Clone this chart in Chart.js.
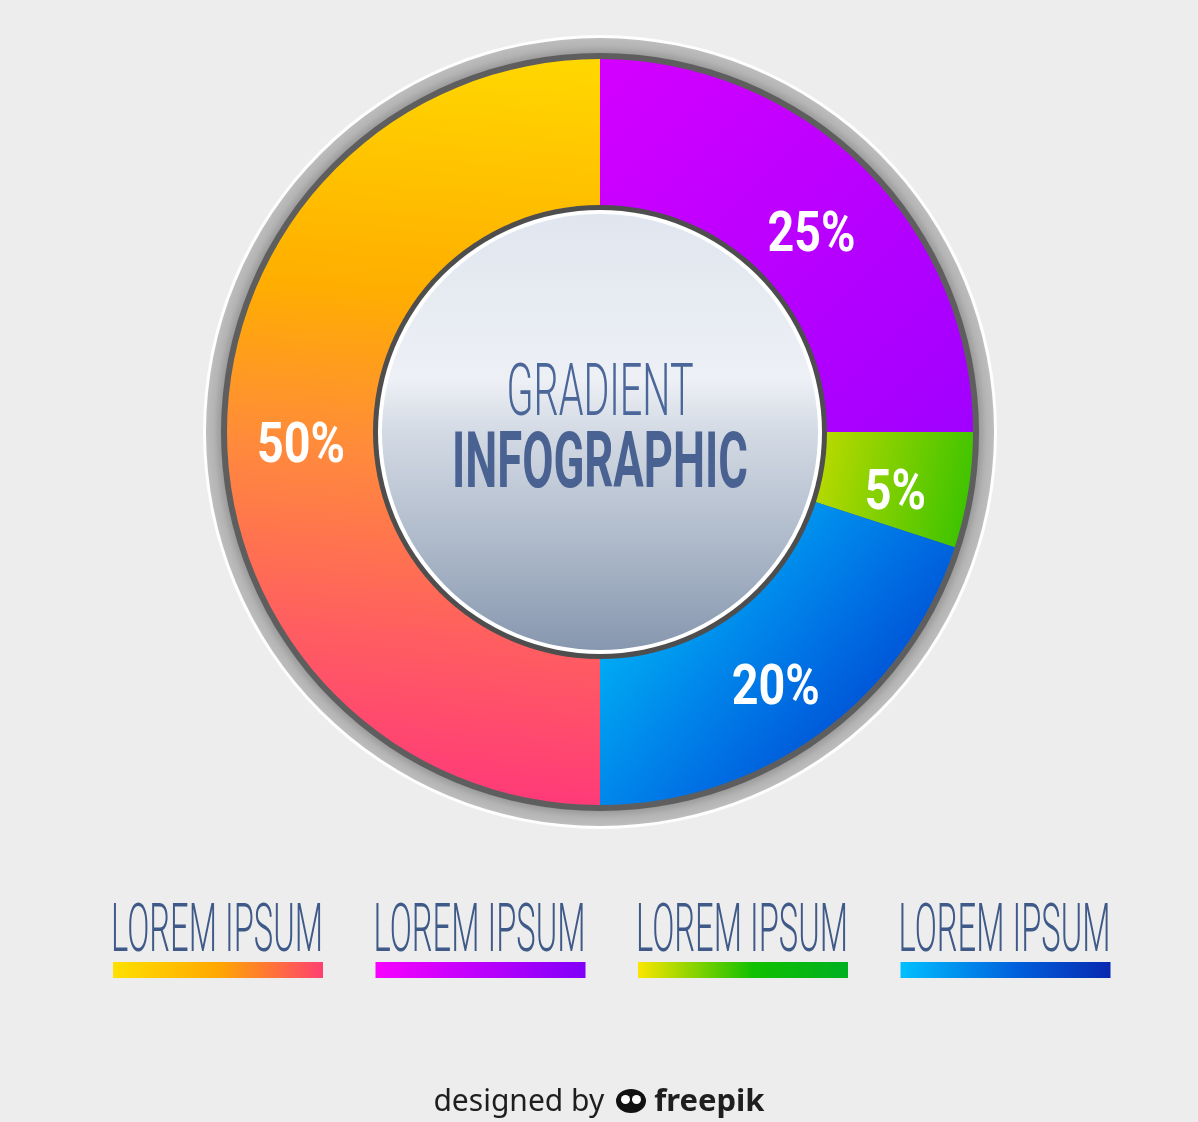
<!DOCTYPE html>
<html><head><meta charset="utf-8">
<script src="https://cdn.jsdelivr.net/npm/chart.js@4.4.1/dist/chart.umd.min.js"></script>
<style>
html,body{margin:0;padding:0;background:#ededed;width:1198px;height:1122px;overflow:hidden}
#wrap{position:absolute;left:0;top:0;width:1198px;height:1122px}
#footer{position:absolute;left:0;top:1079px;width:1198px;text-align:center;font-family:'Noto Sans',sans-serif;font-size:30px;line-height:40px;color:#1e1e1e}
#footer b{font-weight:700;font-size:31px}
.logo{display:inline-block;width:30px;height:24px;border-radius:50%;background:#111;position:relative;top:2px;margin:0 8px 0 12px}
.logo:before,.logo:after{content:'';position:absolute;top:6px;width:9px;height:9px;border-radius:50%;background:#fff}
.logo:before{left:5px}.logo:after{right:5px}
</style></head><body>
<div id="wrap"><canvas id="c" width="1198" height="1122"></canvas></div>
<div id="footer">designed by<span class="logo"></span><b>freepik</b></div>
<script>
// ---- data ----
const categories = ['LOREM IPSUM', 'LOREM IPSUM', 'LOREM IPSUM', 'LOREM IPSUM'];
const values = [50, 25, 5, 20];
const valueLabels = ['50%', '25%', '5%', '20%'];
const centerTitle = ['GRADIENT', 'INFOGRAPHIC'];

// ---- styles ----
const sliceStops = [
  [[0, '#FFD800'], [0.33, '#FFAE00'], [0.55, '#FF8A3C'], [0.8, '#FF5C62'], [1, '#FF3A78']],
  [[0, '#D400FF'], [1, '#A000FF']],
  [[0, '#C8DC00'], [1, '#40C400']],
  [[0, '#00BCF8'], [0.6, '#0070E4'], [1, '#0040CC']]
];
const legendStops = [
  [[0, '#FFE000'], [0.5, '#FFA800'], [1, '#FF4070']],
  [[0, '#F800FF'], [1, '#8000F8']],
  [[0, '#FAE600'], [0.55, '#10C000'], [1, '#00B020']],
  [[0, '#00C0FF'], [0.55, '#0060DC'], [1, '#0828B0']]
];
// gradient direction per slice, in units of radius relative to centre
const sliceDirs = [
  [0.05, -1, -0.1, 1],
  [0, -1, 1, 0],
  [0.55, 0, 1, 0.1],
  [0.05, 0.35, 0.75, 0.95]
];
const CUT = 225, INNER_BORDER = 227;

function makeGrad(ctx, x0, y0, x1, y1, stops) {
  const g = ctx.createLinearGradient(x0, y0, x1, y1);
  stops.forEach(s => g.addColorStop(s[0], s[1]));
  return g;
}

function sliceColor(c) {
  const chart = c.chart, a = chart.chartArea;
  if (!a) return '#ccc';
  const cx = (a.left + a.right) / 2, cy = (a.top + a.bottom) / 2;
  const R = Math.min(a.right - a.left, a.bottom - a.top) / 2;
  const d = sliceDirs[c.dataIndex];
  return makeGrad(chart.ctx, cx + d[0] * R, cy + d[1] * R, cx + d[2] * R, cy + d[3] * R, sliceStops[c.dataIndex]);
}

function scaledText(ctx, text, x, y, font, color, targetW, align) {
  ctx.save();
  ctx.font = font;
  const w = ctx.measureText(text).width;
  const sx = targetW / w;
  ctx.translate(x, y);
  ctx.scale(sx, 1);
  ctx.fillStyle = color;
  ctx.textAlign = align || 'center';
  ctx.textBaseline = 'alphabetic';
  ctx.fillText(text, 0, 0);
  ctx.restore();
  return sx;
}

const ringPlugin = {
  id: 'rings',
  beforeDatasetsDraw(chart) {
    const arc = chart.getDatasetMeta(0).data[0];
    if (!arc) return;
    const ctx = chart.ctx, cx = arc.x, cy = arc.y, R = arc.outerRadius;
    ctx.save();
    ctx.beginPath(); ctx.arc(cx, cy, R + 24, 0, Math.PI * 2);
    ctx.fillStyle = 'rgba(255,255,255,0.9)'; ctx.fill();
    ctx.beginPath(); ctx.arc(cx, cy, R + 21, 0, Math.PI * 2);
    const rg = ctx.createRadialGradient(cx, cy, R + 6, cx, cy, R + 21);
    rg.addColorStop(0, '#9c9c9c'); rg.addColorStop(0.5, '#b4b4b4'); rg.addColorStop(1, '#bdbdbd');
    ctx.fillStyle = rg; ctx.fill();
    ctx.beginPath(); ctx.arc(cx, cy, R + 6, 0, Math.PI * 2);
    ctx.fillStyle = '#5e5e5e'; ctx.fill();
    ctx.restore();
  },
  afterDatasetsDraw(chart) {
    const meta = chart.getDatasetMeta(0);
    const arc = meta.data[0];
    if (!arc) return;
    const ctx = chart.ctx, cx = arc.x, cy = arc.y;
    ctx.save();
    ctx.beginPath(); ctx.arc(cx, cy, INNER_BORDER, 0, Math.PI * 2);
    ctx.fillStyle = '#4e4e4e'; ctx.fill();
    ctx.beginPath(); ctx.arc(cx, cy, 222, 0, Math.PI * 2);
    ctx.fillStyle = '#ffffff'; ctx.fill();
    ctx.beginPath(); ctx.arc(cx, cy, 218, 0, Math.PI * 2);
    ctx.fillStyle = makeGrad(ctx, cx, cy - 218, cx, cy + 218,
      [[0, '#e0e6ef'], [0.38, '#edf0f5'], [0.5, '#d3dae4'], [0.78, '#aab6c7'], [1, '#8797af']]);
    ctx.fill();

    // centre title
    scaledText(ctx, centerTitle[0], cx, cy - 17, '300 73px Roboto, "Open Sans", sans-serif', '#4b679a', 187);
    scaledText(ctx, centerTitle[1], cx, cy + 55, 'bold 77px Roboto, "Open Sans", sans-serif', '#4a6292', 296);

    // value labels
    ctx.save();
    ctx.font = 'bold 56px Roboto, "Open Sans", sans-serif';
    const sx = 88 / ctx.measureText('25%').width;
    ctx.restore();
    meta.data.forEach((el, i) => {
      const p = el.getCenterPoint();
      ctx.save();
      ctx.font = 'bold 56px Roboto, "Open Sans", sans-serif';
      ctx.translate(p.x, p.y + 30);
      ctx.scale(sx, 1);
      ctx.fillStyle = '#ffffff';
      ctx.textAlign = 'center';
      ctx.fillText(valueLabels[i], 0, 0);
      ctx.restore();
    });

    // custom legend
    const left0 = 111, step = 262.5, barW = 210;
    categories.forEach((lab, i) => {
      const x = left0 + i * step;
      scaledText(ctx, lab, x, 951, '300 66px Roboto, "Open Sans", sans-serif', '#3f5a88', 212, 'left');
      ctx.fillStyle = makeGrad(ctx, x + 2, 0, x + 2 + barW, 0, legendStops[i]);
      ctx.fillRect(x + 2, 962, barW, 16);
    });
    ctx.restore();
  }
};

new Chart(document.getElementById('c'), {
  type: 'doughnut',
  data: {
    labels: categories,
    datasets: [{
      data: values,
      backgroundColor: sliceColor,
      borderWidth: 0,
      hoverOffset: 0
    }]
  },
  options: {
    responsive: false,
    animation: false,
    events: [],
    rotation: 180,
    cutout: CUT,
    layout: { padding: { top: 59, bottom: 317, left: 2, right: 0 } },
    plugins: { legend: { display: false }, tooltip: { enabled: false } }
  },
  plugins: [ringPlugin]
});
</script>
</body></html>
